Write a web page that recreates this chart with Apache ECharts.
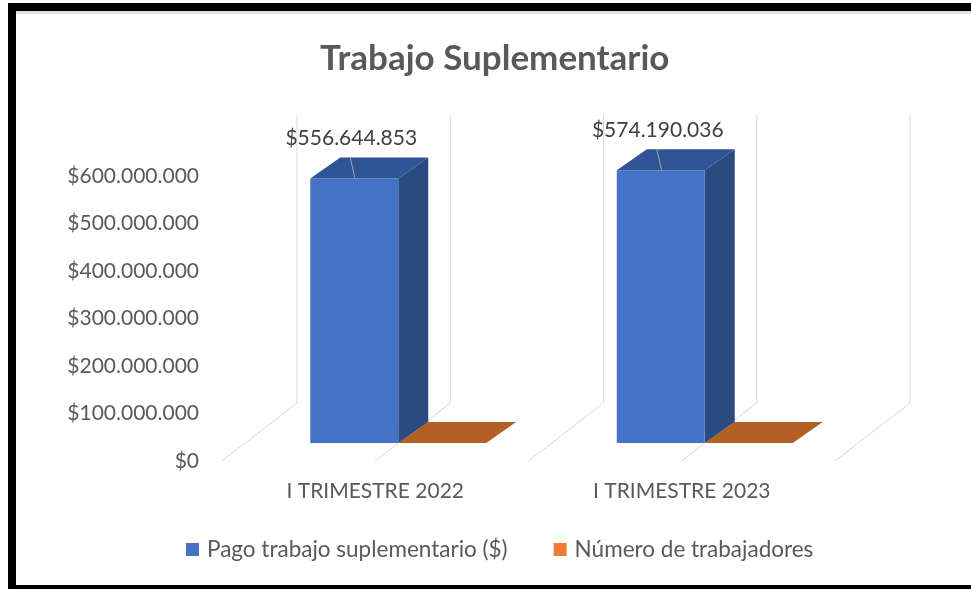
<!DOCTYPE html>
<html>
<head>
<meta charset="utf-8">
<script src="https://cdn.jsdelivr.net/npm/echarts@6/dist/echarts.min.js"></script>
<style>
  html, body { margin: 0; padding: 0; background: #fff; }
  #chart { width: 971px; height: 589px; }
</style>
</head>
<body>
<div id="chart"></div>
<script>
const categories = ["I TRIMESTRE 2022", "I TRIMESTRE 2023"];
const pago = [556644853, 574190036];
// flat on this scale, real count not readable
const trabajadores = [120, 125];
const yMax = 600000000;
const yStep = 100000000;

const FONT = "Lato, 'Open Sans', sans-serif";
// depth offsets of the 3d look (front face / back face of a bar)
const D1 = [23, -18];
const D2 = [53, -39];
const WALL = [75, -58];

function money(v) {
  return "$" + String(v).replace(/\B(?=(\d{3})+(?!\d))/g, ".");
}

function boxItem(side, colors, withLabel) {
  return function (params, api) {
    const i = api.value(0);
    const base = api.coord([i, 0]);
    const top = api.coord([i, api.value(1)]);
    const w = api.size([1, 0])[0] * 0.287;
    const x0 = side < 0 ? base[0] - w : base[0];
    const x1 = x0 + w;
    const ty = top[1], by = base[1];
    const children = [
      { type: "polygon", shape: { points: [[x1 + D1[0], ty + D1[1]], [x1 + D2[0], ty + D2[1]], [x1 + D2[0], by + D2[1]], [x1 + D1[0], by + D1[1]]] },
        style: { fill: colors.side } },
      { type: "rect", shape: { x: x0 + D1[0], y: ty + D1[1], width: w, height: by - ty },
        style: { fill: colors.front } },
      { type: "polygon", shape: { points: [[x0 + D1[0], ty + D1[1]], [x1 + D1[0], ty + D1[1]], [x1 + D2[0], ty + D2[1]], [x0 + D2[0], ty + D2[1]]] },
        style: { fill: colors.top } }
    ];
    if (withLabel) {
      const cx = (x0 + x1) / 2 + D1[0];
      const fy = ty + D1[1];
      children.push({ type: "line", shape: { x1: cx - 4, y1: fy - 21, x2: cx + 1, y2: fy + 1 },
        style: { stroke: "#a6a6a6", lineWidth: 1 } });
      children.push({ type: "text", x: cx - 3, y: fy - 40,
        style: { text: money(api.value(1)), font: "21px " + FONT, fill: "#404040", align: "center", verticalAlign: "middle" } });
    }
    return { type: "group", children: children };
  };
}

// back wall and floor lines
function wallItem(params, api) {
  const i = api.value(0);
  const c = api.coord([i, 0]);
  const c2 = api.coord([i, yMax]);
  const half = api.size([1, 0])[0] / 2;
  const xs = [c[0] - half, c[0]];
  if (i === categories.length - 1) xs.push(c[0] + half);
  const children = [];
  xs.forEach(function (x) {
    children.push({ type: "line", shape: { x1: x, y1: c[1], x2: x + WALL[0], y2: c[1] + WALL[1] },
      style: { stroke: "#d9d9d9", lineWidth: 1 } });
    children.push({ type: "line", shape: { x1: x + WALL[0], y1: c[1] + WALL[1], x2: x + WALL[0], y2: c2[1] + WALL[1] - 3 },
      style: { stroke: "#d9d9d9", lineWidth: 1 } });
  });
  return { type: "group", children: children };
}

const chart = echarts.init(document.getElementById("chart"));
chart.setOption({
  backgroundColor: "#fff",
  animation: false,
  title: {
    text: "Trabajo Suplementario",
    left: 315,
    top: 36,
    textStyle: { fontFamily: FONT, fontSize: 35, fontWeight: "bold", color: "#595959" }
  },
  legend: {
    left: 186,
    top: 538,
    padding: 0,
    icon: "rect",
    itemWidth: 13,
    itemHeight: 13,
    itemGap: 46,
    textStyle: { fontFamily: FONT, fontSize: 22.5, color: "#595959", padding: [0, 0, 0, 3] },
    data: ["Pago trabajo suplementario ($)", "Número de trabajadores"]
  },
  grid: { left: 222, right: 136, top: 176, bottom: 128 },
  xAxis: {
    type: "category",
    data: categories,
    axisLine: { show: false },
    axisTick: { show: false },
    axisLabel: { margin: 20, fontFamily: FONT, fontSize: 21, color: "#595959" }
  },
  yAxis: {
    type: "value",
    min: 0,
    max: yMax,
    interval: yStep,
    splitLine: { show: false },
    axisLine: { show: false },
    axisTick: { show: false },
    axisLabel: { margin: 23, fontFamily: FONT, fontSize: 21, color: "#595959", formatter: money }
  },
  graphic: [
    { type: "rect", shape: { x: 16, y: 11, width: 955, height: 3 }, style: { fill: "#e3e3e3" } },
    { type: "rect", shape: { x: 8, y: 3, width: 963, height: 8 }, style: { fill: "#000" } },
    { type: "rect", shape: { x: 8, y: 3, width: 8, height: 586 }, style: { fill: "#000" } },
    { type: "rect", shape: { x: 8, y: 585, width: 963, height: 4 }, style: { fill: "#000" } }
  ],
  series: [
    {
      type: "custom",
      name: "wall",
      z: 1,
      silent: true,
      renderItem: wallItem,
      data: categories.map(function (c, i) { return [i, 0]; })
    },
    {
      type: "custom",
      name: "Número de trabajadores",
      z: 2,
      itemStyle: { color: "#ED7D31" },
      renderItem: boxItem(1, { front: "#C55A11", side: "#A04A10", top: "#B45F24" }, false),
      data: trabajadores.map(function (v, i) { return [i, v]; })
    },
    {
      type: "custom",
      name: "Pago trabajo suplementario ($)",
      z: 3,
      itemStyle: { color: "#4472C4" },
      renderItem: boxItem(-1, { front: "#4472C4", side: "#2B4A80", top: "#2F5597" }, true),
      data: pago.map(function (v, i) { return [i, v]; })
    }
  ]
});
</script>
</body>
</html>
